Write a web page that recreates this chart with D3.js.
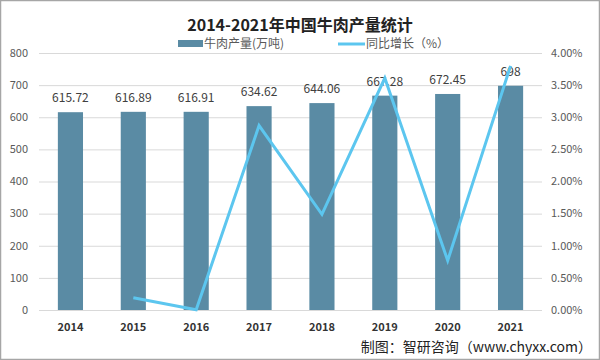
<!DOCTYPE html>
<html>
<head>
<meta charset="utf-8">
<script src="https://cdn.jsdelivr.net/npm/d3@7"></script>
<style>
  body { margin: 0; background: #fff; }
  svg { display: block; font-family: "Noto Sans CJK SC", "Noto Sans", sans-serif; }
</style>
</head>
<body>
<div id="chart"></div>
<script>
'use strict'
var years = ['2014', '2015', '2016', '2017', '2018', '2019', '2020', '2021']
var output = [615.72, 616.89, 616.91, 634.62, 644.06, 667.28, 672.45, 698]
var growth = [null, 0.19, 0.003, 2.87, 1.49, 3.61, 0.77, 3.80]
var leftTicks = [0, 100, 200, 300, 400, 500, 600, 700, 800]
var rightTicks = [0, 0.5, 1, 1.5, 2, 2.5, 3, 3.5, 4]

var W = 600, H = 360
var svg = d3.select('#chart').append('svg').attr('width', W).attr('height', H)

// frame
svg.append('rect').attr('x', 0.5).attr('y', 0.5).attr('width', W - 1).attr('height', H - 1)
  .attr('fill', 'none').attr('stroke', '#a6a6a6').attr('stroke-width', 1.5)

var x = d3.scaleBand().domain(years).range([39, 542]).paddingInner(0.6).paddingOuter(0.3)
var yL = d3.scaleLinear().domain([0, 800]).range([310, 53])
var yR = d3.scaleLinear().domain([0, 4]).range([310, 53])

// grid
svg.append('g').selectAll('line').data(leftTicks).join('line')
  .attr('x1', 39).attr('x2', 542)
  .attr('y1', d => yL(d) + 0.5).attr('y2', d => yL(d) + 0.5)
  .attr('stroke', '#d9d9d9').attr('stroke-width', 1)

// left labels
svg.append('g').selectAll('text').data(leftTicks).join('text')
  .attr('x', 28).attr('y', d => yL(d)).attr('dy', '0.35em')
  .attr('text-anchor', 'end').attr('font-size', 11).attr('fill', '#595959')
  .text(d => d)

// right labels
svg.append('g').selectAll('text').data(rightTicks).join('text')
  .attr('x', 551).attr('y', d => yR(d)).attr('dy', '0.35em')
  .attr('text-anchor', 'start').attr('font-size', 11).attr('fill', '#595959')
  .text(d => d.toFixed(2) + '%')

// bars
svg.append('g').selectAll('rect').data(output).join('rect')
  .attr('x', (d, i) => x(years[i]))
  .attr('width', x.bandwidth())
  .attr('y', d => yL(d))
  .attr('height', d => yL(0) - yL(d))
  .attr('fill', '#5a8ba4')

// bar labels
svg.append('g').selectAll('text').data(output).join('text')
  .attr('x', (d, i) => x(years[i]) + x.bandwidth() / 2)
  .attr('y', d => yL(d) - 14).attr('dy', '0.35em')
  .attr('text-anchor', 'middle').attr('font-size', 12).attr('fill', '#404040')
  .text(d => d)

// growth line
var line = d3.line()
  .defined(d => d != null)
  .x((d, i) => x(years[i]) + x.bandwidth() / 2)
  .y(d => yR(d))
svg.append('path').datum(growth)
  .attr('d', line)
  .attr('fill', 'none').attr('stroke', '#5cc6ef').attr('stroke-width', 3)
  .attr('stroke-linejoin', 'miter')

// x labels
svg.append('g').selectAll('text').data(years).join('text')
  .attr('x', d => x(d) + x.bandwidth() / 2).attr('y', 327).attr('dy', '0.35em')
  .attr('text-anchor', 'middle').attr('font-size', 11).attr('font-weight', 'bold')
  .attr('fill', '#333')
  .text(d => d)

// title
svg.append('text').attr('x', 300).attr('y', 25).attr('dy', '0.35em')
  .attr('text-anchor', 'middle').attr('font-size', 16).attr('font-weight', 'bold')
  .attr('fill', '#222').text('2014-2021年中国牛肉产量统计')

// legend
var lg = svg.append('g').attr('font-size', 12).attr('fill', '#595959')
lg.append('rect').attr('x', 178).attr('y', 40).attr('width', 25).attr('height', 7).attr('fill', '#5a8ba4')
lg.append('text').attr('x', 204).attr('y', 44).attr('dy', '0.35em').text('牛肉产量(万吨)')
lg.append('line').attr('x1', 338).attr('x2', 365).attr('y1', 44).attr('y2', 44)
  .attr('stroke', '#5cc6ef').attr('stroke-width', 3)
lg.append('text').attr('x', 366).attr('y', 44).attr('dy', '0.35em').text('同比增长（%）')

// source
svg.append('text').attr('x', 592).attr('y', 347).attr('dy', '0.35em')
  .attr('text-anchor', 'end').attr('font-size', 14).attr('fill', '#222')
  .text('制图：智研咨询（www.chyxx.com）')
</script>
</body>
</html>
